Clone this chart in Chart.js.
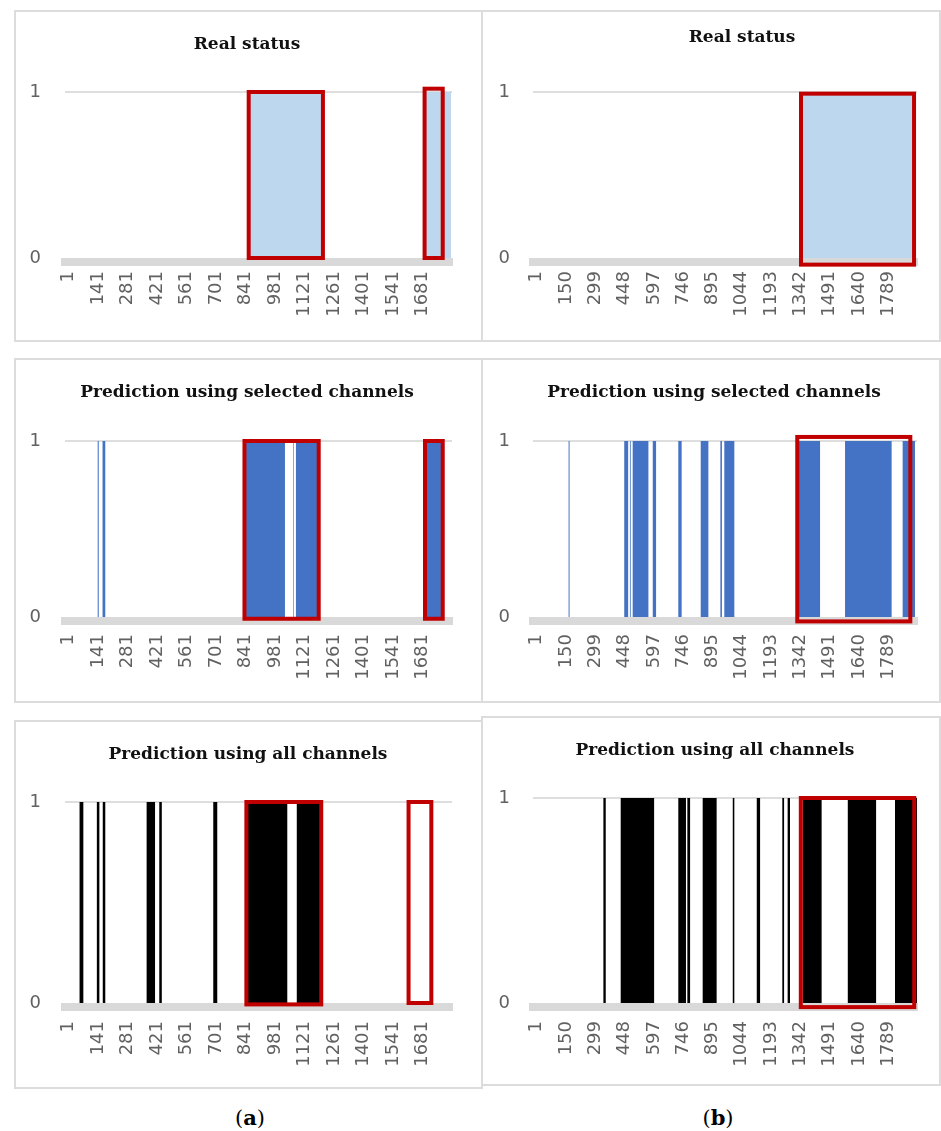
<!DOCTYPE html>
<html lang="en">
<head>
<meta charset="UTF-8">
<title>Real status and predictions</title>
<script src="https://cdn.jsdelivr.net/npm/chart.js"></script>
<style>
  html, body { margin: 0; padding: 0; background: #fff; overflow: hidden; }
  body { width: 941px; height: 1131px; position: relative; }
  .frame { position: absolute; border: 2px solid #dcdcdc; box-sizing: border-box; }
  canvas { position: absolute; }
  .tag { position: absolute; font-family: 'DejaVu Serif', serif; font-size: 21px; color: #000; transform: translate(-50%, -50%); }
</style>
</head>
<body>
<div class="tag" style="left:250px;top:1117px">(<b>a</b>)</div>
<div class="tag" style="left:718px;top:1117px">(<b>b</b>)</div>

<script>
// tick labels
const xTicksA = [1, 141, 281, 421, 561, 701, 841, 981, 1121, 1261, 1401, 1541, 1681];
const xTicksB = [1, 150, 299, 448, 597, 746, 895, 1044, 1193, 1342, 1491, 1640, 1789];
const yTicks = [0, 1];

// number of samples in each recording
const samplesA = 1820;
const samplesB = 1935;

// runs where the status is 1: [first sample, last sample]
const realA = [[862, 1202], [1696, 1815]];
const realB = [[1340, 1928]];
const selectedA = [[140, 145], [163, 176], [830, 1028], [1066, 1069], [1080, 1186], [1692, 1771]];
const selectedB = [[163, 168], [446, 466], [475, 479], [489, 569], [591, 608], [721, 738], [835, 874],
                   [935, 943], [955, 1006], [1331, 1442], [1569, 1806], [1862, 1925]];
const allA = [[54, 72], [136, 148], [164, 176], [352, 354], [372, 412], [432, 444], [688, 707],
              [847, 1039], [1084, 1194]];
const allB = [[340, 352], [428, 598], [721, 760], [767, 781], [845, 916], [998, 1006], [1120, 1137],
              [1250, 1259], [1277, 1289], [1354, 1450], [1583, 1727], [1823, 1935]];

// red highlight windows: [from sample, to sample, low, high]
const boxesRealA = [[856, 1208, 0, 1], [1690, 1776, 0, 1.02]];
const boxesRealB = [[1345, 1920, -0.04, 0.99]];
const boxesSelA = [[836, 1188, -0.01, 1], [1692, 1776, -0.01, 1]];
const boxesSelB = [[1326, 1901, -0.025, 1.023]];
const boxesAllA = [[845, 1200, -0.007, 1], [1614, 1722, 0, 1]];
const boxesAllB = [[1344, 1921, -0.02, 1]];

function steps(runs, n) {
  const pts = [{ x: 1, y: 0 }];
  runs.forEach(([a, b]) => {
    pts.push({ x: a, y: 0 }, { x: a, y: 1 }, { x: b, y: 1 }, { x: b, y: 0 });
  });
  pts.push({ x: n, y: 0 });
  return pts;
}

const windowsPlugin = {
  id: 'windows',
  afterDatasetsDraw(chart, args, opts) {
    const { ctx, scales: { x, y } } = chart;
    ctx.save();
    ctx.strokeStyle = '#c00000';
    ctx.lineWidth = 4;
    opts.list.forEach(([a, b, lo, hi]) => {
      const x0 = x.getPixelForValue(a), x1 = x.getPixelForValue(b);
      const y0 = y.getPixelForValue(hi), y1 = y.getPixelForValue(lo);
      ctx.strokeRect(x0, y0, x1 - x0, y1 - y0);
    });
    ctx.restore();
  }
};

// frame = [left, top, width, height] of the grey cell border; canvas starts at the frame's corner
const panels = [
  { frame: [14, 10, 469, 332], left: 65, right: 452, y1: 92, y0: 258, titleX: 247, titleY: 45, xPad: 9,
    title: 'Real status', runs: realA, boxes: boxesRealA, color: '#bdd7ee', n: samplesA, xMin: -15, ticks: xTicksA, yPad: 24 },
  { frame: [481, 10, 460, 332], left: 533, right: 917, y1: 92, y0: 258, titleX: 742, titleY: 38, xPad: 9,
    title: 'Real status', runs: realB, boxes: boxesRealB, color: '#bdd7ee', n: samplesB, xMin: -18, ticks: xTicksB, yPad: 23 },
  { frame: [14, 358, 469, 345], left: 65, right: 452, y1: 441, y0: 617, titleX: 247, titleY: 393, xPad: 13,
    title: 'Prediction using selected channels', runs: selectedA, boxes: boxesSelA, color: '#4472c4', n: samplesA, xMin: -15, ticks: xTicksA, yPad: 24 },
  { frame: [481, 358, 460, 345], left: 533, right: 917, y1: 441, y0: 617, titleX: 714, titleY: 393, xPad: 13,
    title: 'Prediction using selected channels', runs: selectedB, boxes: boxesSelB, color: '#4472c4', n: samplesB, xMin: -18, ticks: xTicksB, yPad: 23 },
  { frame: [14, 720, 469, 369], left: 65, right: 452, y1: 802, y0: 1003, titleX: 248, titleY: 755, xPad: 14,
    title: 'Prediction using all channels', runs: allA, boxes: boxesAllA, color: '#000000', n: samplesA, xMin: -15, ticks: xTicksA, yPad: 24 },
  { frame: [481, 716, 460, 370], left: 533, right: 917, y1: 798, y0: 1003, titleX: 715, titleY: 751, xPad: 14,
    title: 'Prediction using all channels', runs: allB, boxes: boxesAllB, color: '#000000', n: samplesB, xMin: -18, ticks: xTicksB, yPad: 23 }
];

const tickFont = { family: 'DejaVu Sans', size: 18 };
const titleFont = { family: 'DejaVu Serif', size: 17, weight: 'bold' };

panels.forEach(p => {
  const fr = document.createElement('div');
  fr.className = 'frame';
  fr.style.cssText = `left:${p.frame[0]}px;top:${p.frame[1]}px;width:${p.frame[2]}px;height:${p.frame[3]}px`;
  document.body.appendChild(fr);

  // the title is centred over [cx, cx + cw]; a blank right-hand axis fills the gap to the plot's right edge
  const cx = p.frame[0], cy = p.frame[1], ch = p.frame[3];
  const cw = 2 * (p.titleX - cx);
  const spareRight = cx + cw - p.right;

  const cv = document.createElement('canvas');
  cv.width = cw; cv.height = ch;
  cv.style.cssText = `left:${cx}px;top:${cy}px;width:${cw}px;height:${ch}px`;
  document.body.appendChild(cv);

  const lineH = titleFont.size * 1.2;
  const titleTop = p.titleY - cy - lineH / 2;
  const titleBottom = (p.y1 - cy) - titleTop - lineH;

  new Chart(cv, {
    type: 'line',
    data: {
      datasets: [{
        data: steps(p.runs, p.n),
        fill: 'origin',
        backgroundColor: p.color,
        borderColor: 'transparent',
        borderWidth: 0,
        pointRadius: 0,
        tension: 0
      }]
    },
    options: {
      responsive: false,
      animation: false,
      devicePixelRatio: 1,
      layout: { padding: 0 },
      plugins: {
        legend: { display: false },
        tooltip: { enabled: false },
        title: {
          display: true, text: p.title, color: '#111', font: titleFont,
          padding: { top: titleTop, bottom: titleBottom }
        },
        windows: { list: p.boxes }
      },
      scales: {
        x: {
          type: 'linear', min: p.xMin, max: p.n,
          grid: { display: false, drawTicks: false },
          border: { display: true, color: '#d9d9d9', width: 8 },
          afterBuildTicks: s => { s.ticks = p.ticks.map(v => ({ value: v })); },
          afterFit: s => { s.height = cy + ch - (p.y0 + 4); },
          ticks: { autoSkip: false, minRotation: 90, maxRotation: 90, padding: p.xPad, color: '#616161', font: tickFont,
                   callback: v => String(v) }
        },
        y: {
          min: -4 / (p.y0 - p.y1), max: 1,
          border: { display: false },
          grid: { color: c => (c.tick && c.tick.value === 1 ? '#dedede' : 'transparent'), lineWidth: 2, drawTicks: false },
          afterBuildTicks: s => { s.ticks = yTicks.map(v => ({ value: v })); },
          afterFit: s => { s.width = p.left - cx; },
          ticks: { padding: p.yPad, color: '#616161', font: tickFont, callback: v => String(v) }
        },
        spare: {
          type: 'linear', position: 'right', min: 0, max: 1,
          grid: { display: false, drawTicks: false },
          border: { display: false },
          ticks: { display: false },
          afterFit: s => { s.width = spareRight; }
        }
      }
    },
    plugins: [windowsPlugin]
  });
});
</script>
</body>
</html>
